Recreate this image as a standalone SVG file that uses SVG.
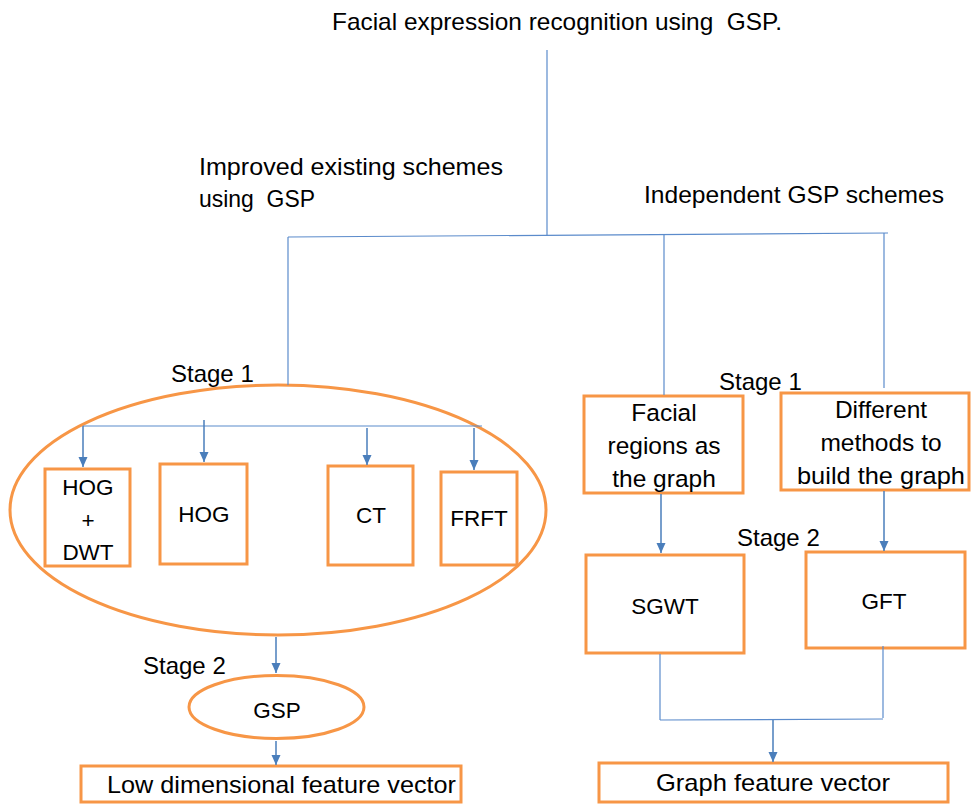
<svg xmlns="http://www.w3.org/2000/svg" width="971" height="804" viewBox="0 0 971 804">
<style>
  text { font-family: "Liberation Sans", Arial, sans-serif; fill: #000; white-space: pre; }
  .lbl { font-size: 24px; }
  .cap { font-size: 22.5px; text-anchor: middle; }
  .low { font-size: 24.5px; text-anchor: middle; }
  .box { fill: #fff; stroke: #F79646; stroke-width: 3; }
  .ell { fill: none; stroke: #F79646; stroke-width: 3; }
  .line { stroke: #5B8BCB; stroke-width: 1.2; fill: none; }
  .arr { stroke: #4A7EBB; stroke-width: 1.5; fill: none; marker-end: url(#ah); }
</style>
<defs>
  <marker id="ah" markerUnits="userSpaceOnUse" markerWidth="12" markerHeight="12" viewBox="0 0 12 12" refX="10" refY="6" orient="auto">
    <path d="M0,1.5 L10,6 L0,10.5 Z" fill="#4A7EBB"/>
  </marker>
</defs>
<rect width="971" height="804" fill="#fff"/>

<g id="labels">
  <text class="lbl" x="332" y="30" textLength="450" lengthAdjust="spacingAndGlyphs">Facial expression recognition using  GSP.</text>
  <text class="lbl" x="199" y="175" textLength="304" lengthAdjust="spacingAndGlyphs">Improved existing schemes</text>
  <text class="lbl" x="199" y="207" textLength="116" lengthAdjust="spacingAndGlyphs">using  GSP</text>
  <text class="lbl" x="644" y="203" textLength="300" lengthAdjust="spacingAndGlyphs">Independent GSP schemes</text>
  <text class="lbl" x="171" y="382">Stage 1</text>
  <text class="lbl" x="719" y="390">Stage 1</text>
  <text class="lbl" x="737" y="546">Stage 2</text>
  <text class="lbl" x="143" y="674">Stage 2</text>
</g>

<g id="stage1-ellipse">
  <ellipse class="ell" cx="278" cy="510" rx="268" ry="125"/>
</g>

<g id="node-hog-dwt">
  <rect class="box" x="45" y="469" width="85" height="97"/>
  <text class="cap" x="88" y="495">HOG</text>
  <text class="cap" x="88" y="528">+</text>
  <text class="cap" x="88" y="560">DWT</text>
</g>
<g id="node-hog">
  <rect class="box" x="160" y="464" width="87" height="100"/>
  <text class="cap" x="204" y="522">HOG</text>
</g>
<g id="node-ct">
  <rect class="box" x="328" y="466" width="85" height="99"/>
  <text class="cap" x="371" y="523">CT</text>
</g>
<g id="node-frft">
  <rect class="box" x="441" y="472" width="76" height="93"/>
  <text class="cap" x="479" y="526">FRFT</text>
</g>

<g id="node-gsp">
  <ellipse class="ell" cx="276.5" cy="707" rx="87.5" ry="31.5"/>
  <text class="cap" x="277" y="718">GSP</text>
</g>
<g id="node-lowdim">
  <rect class="box" x="81" y="766" width="380" height="36"/>
  <text class="lbl" x="107" y="793" textLength="349" lengthAdjust="spacingAndGlyphs">Low dimensional feature vector</text>
</g>

<g id="node-facial">
  <rect class="box" x="584" y="396" width="159" height="97"/>
  <text class="low" x="664" y="421">Facial</text>
  <text class="low" x="664" y="454">regions as</text>
  <text class="low" x="664" y="487">the graph</text>
</g>
<g id="node-different">
  <rect class="box" x="781" y="393" width="188" height="97"/>
  <text class="low" x="881" y="418">Different</text>
  <text class="low" x="881" y="451">methods to</text>
  <text class="low" x="881" y="484" textLength="168" lengthAdjust="spacingAndGlyphs">build the graph</text>
</g>
<g id="node-sgwt">
  <rect class="box" x="586" y="555" width="158" height="98"/>
  <text class="cap" x="665" y="614">SGWT</text>
</g>
<g id="node-gft">
  <rect class="box" x="806" y="552" width="159" height="96"/>
  <text class="cap" x="884" y="609">GFT</text>
</g>
<g id="node-graphvec">
  <rect class="box" x="599" y="763" width="349" height="39"/>
  <text class="lbl" x="773" y="791" text-anchor="middle" textLength="234" lengthAdjust="spacingAndGlyphs">Graph feature vector</text>
</g>

<g id="connectors">
  <line class="line" x1="547" y1="50" x2="547" y2="236"/>
  <line class="line" x1="288" y1="237" x2="888" y2="233"/>
  <line class="line" x1="288" y1="237" x2="288" y2="385"/>
  <line class="line" x1="664" y1="234" x2="664" y2="395"/>
  <line class="line" x1="884" y1="233" x2="884" y2="388"/>
  <line class="line" x1="83" y1="426" x2="482" y2="426"/>
  <line class="arr" x1="83" y1="426" x2="83" y2="467"/>
  <line class="arr" x1="204" y1="420" x2="204" y2="462"/>
  <line class="arr" x1="367" y1="428" x2="367" y2="465"/>
  <line class="arr" x1="474" y1="428" x2="474" y2="470"/>
  <line class="arr" x1="276" y1="637" x2="276" y2="673"/>
  <line class="arr" x1="276" y1="741" x2="276" y2="765"/>
  <line class="arr" x1="661" y1="494" x2="661" y2="553"/>
  <line class="arr" x1="884" y1="491" x2="884" y2="551"/>
  <line class="line" x1="660" y1="654" x2="660" y2="720"/>
  <line class="line" x1="883" y1="646" x2="883" y2="718"/>
  <line class="line" x1="660" y1="720" x2="883" y2="719"/>
  <line class="arr" x1="773" y1="720" x2="773" y2="762"/>
</g>
</svg>
